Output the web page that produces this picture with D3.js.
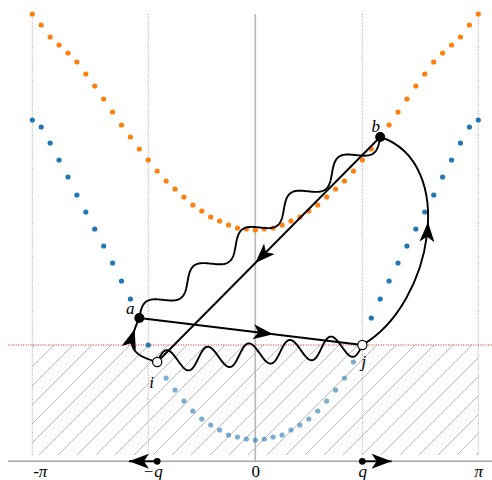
<!DOCTYPE html>
<html>
<head>
<meta charset="utf-8">
<script src="https://cdn.jsdelivr.net/npm/d3@7"></script>
<style>
  html, body { margin: 0; padding: 0; background: #fff; }
  svg { display: block; }
  text { font-family: "Liberation Serif", "DejaVu Serif", serif; }
</style>
</head>
<body>
<svg id="chart" width="492" height="480"></svg>
<script>
// ---- data ---------------------------------------------------------------
// crystal momentum grid, 51 points across the first Brillouin zone
const kCount = 51;
const kGrid = d3.range(kCount).map(i => -Math.PI + i * 2 * Math.PI / (kCount - 1));

// upper band energies on the k grid
const upperBand = [3.31, 3.20, 3.08, 3.00, 2.92, 2.83, 2.71, 2.59, 2.46, 2.33, 2.20, 2.08, 1.96,
  1.85, 1.74, 1.64, 1.56, 1.48, 1.40, 1.34, 1.28, 1.24, 1.20, 1.17, 1.16, 1.15, 1.16, 1.17, 1.20,
  1.24, 1.28, 1.34, 1.40, 1.48, 1.56, 1.64, 1.74, 1.85, 1.96, 2.08, 2.20, 2.33, 2.46, 2.59, 2.71,
  2.83, 2.92, 3.00, 3.08, 3.20, 3.31];

// lower band energies on the k grid
const lowerBand = [2.25, 2.18, 2.02, 1.85, 1.68, 1.50, 1.33, 1.16, 0.99, 0.82, 0.64, 0.46, 0.27,
  0.00, -0.17, -0.33, -0.45, -0.56, -0.66, -0.74, -0.80, -0.85, -0.90, -0.92, -0.94, -0.95, -0.94,
  -0.92, -0.90, -0.85, -0.80, -0.74, -0.66, -0.56, -0.45, -0.33, -0.17, 0.00, 0.27, 0.46, 0.64,
  0.82, 0.99, 1.16, 1.33, 1.50, 1.68, 1.85, 2.02, 2.18, 2.25];

const fermiEnergy = 0;
const bottomEnergy = -1.1;
const topEnergy = 3.31;

// scattering states: grid index and band
const stateNames = ["a", "b", "i", "j"];
const stateIndex = [12, 39, 14, 37];
const stateBand = ["lower", "upper", "lower", "lower"];
const stateFilled = [true, true, false, false];

// momentum transfer q
const q = kGrid[37];
const tickValues = [-Math.PI, -q, 0, q, Math.PI];
const tickLabels = ["-π", "−q", "0", "q", "π"];

// momentum markers on the k axis: start and end of each arrow
const markerStart = [kGrid[14], kGrid[37]];
const markerEnd = [-1.78, 1.92];

// ---- scales -------------------------------------------------------------
const x = d3.scaleLinear().domain([-Math.PI, Math.PI]).range([32.3, 478.3]);
const y = d3.scaleLinear().domain([bottomEnergy, topEnergy]).range([455, 14]);
const axisY = 461.3;
const lineLeft = 8, lineRight = 492;

const svg = d3.select("#chart");
svg.append("rect").attr("width", 492).attr("height", 480).attr("fill", "#fff");

const defs = svg.append("defs");
const hatch = defs.append("pattern")
  .attr("id", "hatch").attr("patternUnits", "userSpaceOnUse")
  .attr("width", 19).attr("height", 19);
hatch.append("path")
  .attr("d", "M-2,2 L2,-2 M0,19 L19,0 M17,21 L21,17")
  .attr("stroke", "#b4b4b4").attr("stroke-width", 0.9);

// occupied states below the Fermi level
svg.append("rect")
  .attr("x", x(-Math.PI)).attr("y", y(fermiEnergy))
  .attr("width", x(Math.PI) - x(-Math.PI))
  .attr("height", y(bottomEnergy) - y(fermiEnergy))
  .attr("fill", "url(#hatch)");

// vertical guides
tickValues.forEach(k => {
  if (k === 0) {
    svg.append("line").attr("x1", x(k)).attr("x2", x(k))
      .attr("y1", y(topEnergy)).attr("y2", axisY)
      .attr("stroke", "#b8b8b8").attr("stroke-width", 1.6);
  } else {
    svg.append("line").attr("x1", x(k)).attr("x2", x(k))
      .attr("y1", y(topEnergy)).attr("y2", y(bottomEnergy))
      .attr("stroke", "#a8a8a8").attr("stroke-width", 1)
      .attr("stroke-dasharray", "1,1.2");
  }
});

// Fermi level
svg.append("line").attr("x1", lineLeft).attr("x2", lineRight)
  .attr("y1", y(fermiEnergy)).attr("y2", y(fermiEnergy))
  .attr("stroke", "#d9403a").attr("stroke-width", 1)
  .attr("stroke-dasharray", "1.2,1.3");

// k axis
svg.append("line").attr("x1", lineLeft).attr("x2", lineRight)
  .attr("y1", axisY).attr("y2", axisY)
  .attr("stroke", "#a6a6a6").attr("stroke-width", 1.5);

const labelShift = [7.5, 4, 0, 0, 0];
const axis = d3.axisBottom(x).tickValues(tickValues).tickSize(0)
  .tickFormat((d, i) => tickLabels[i]);
const axisG = svg.append("g").attr("transform", `translate(0,${axisY})`).call(axis);
axisG.select(".domain").remove();
axisG.selectAll("text")
  .attr("y", 16).attr("dy", 0)
  .attr("dx", (d, i) => labelShift[i])
  .attr("fill", "#000")
  .style("font-family", "'Liberation Serif', serif")
  .style("font-size", "17px")
  .style("font-style", (d, i) => tickLabels[i] === "0" ? "normal" : "italic");

// band dots
const orange = "#ff7f0e", blue = "#1f77b4";
svg.append("g").selectAll("circle").data(kGrid).join("circle")
  .attr("cx", d => x(d)).attr("cy", (d, i) => y(upperBand[i]))
  .attr("r", 2.6).attr("fill", orange);
svg.append("g").selectAll("circle").data(kGrid).join("circle")
  .attr("cx", d => x(d)).attr("cy", (d, i) => y(lowerBand[i]))
  .attr("r", 2.6).attr("fill", blue)
  .attr("fill-opacity", (d, i) => lowerBand[i] < fermiEnergy ? 0.6 : 1);

// ---- scattering diagram --------------------------------------------------
const pos = {};
stateNames.forEach((n, s) => {
  const idx = stateIndex[s];
  const e = stateBand[s] === "upper" ? upperBand[idx] : lowerBand[idx];
  pos[n] = [x(kGrid[idx]), y(e)];
});

const ink = "#000", lw = 1.9;

function stealth(g, tip, angle) {
  g.append("path")
    .attr("d", "M0,0 L-20,-7.5 L-15,0 L-20,7.5 Z")
    .attr("transform", `translate(${tip[0]},${tip[1]}) rotate(${angle * 180 / Math.PI})`)
    .attr("fill", ink);
}

function markPath(pathNode, frac) {
  const L = pathNode.getTotalLength();
  const p = pathNode.getPointAtLength(L * frac);
  const p0 = pathNode.getPointAtLength(Math.max(0, L * frac - 6));
  stealth(svg, [p.x, p.y], Math.atan2(p.y - p0.y, p.x - p0.x));
}

// wavy propagator along a straight segment
function snake(p0, p1, periods, amp) {
  const dx = p1[0] - p0[0], dy = p1[1] - p0[1];
  const len = Math.hypot(dx, dy);
  const ux = dx / len, uy = dy / len;
  const nx = uy, ny = -ux;
  return d3.range(0, 401).map(s => {
    const t = s / 400;
    const w = amp * Math.sin(2 * Math.PI * periods * t);
    return [p0[0] + t * dx + w * nx, p0[1] + t * dy + w * ny];
  });
}

// curved connector with outgoing / incoming angles
function bend(p0, p1, outDeg, inDeg, loose) {
  const d = 0.3915 * loose * Math.hypot(p1[0] - p0[0], p1[1] - p0[1]);
  const o = outDeg * Math.PI / 180, n = inDeg * Math.PI / 180;
  const c1 = [p0[0] + d * Math.cos(o), p0[1] - d * Math.sin(o)];
  const c2 = [p1[0] + d * Math.cos(n), p1[1] - d * Math.sin(n)];
  const path = d3.path();
  path.moveTo(p0[0], p0[1]);
  path.bezierCurveTo(c1[0], c1[1], c2[0], c2[1], p1[0], p1[1]);
  return path.toString();
}

const lineGen = d3.line();

// phonon lines
svg.append("path").attr("d", lineGen(snake(pos.a, pos.b, 5, 9)))
  .attr("fill", "none").attr("stroke", ink).attr("stroke-width", lw);
svg.append("path").attr("d", lineGen(snake(pos.i, pos.j, 5, 11)))
  .attr("fill", "none").attr("stroke", ink).attr("stroke-width", lw);

// straight electron lines
const aj = svg.append("path").attr("d", lineGen([pos.a, pos.j]))
  .attr("fill", "none").attr("stroke", ink).attr("stroke-width", lw);
const bi = svg.append("path").attr("d", lineGen([pos.b, pos.i]))
  .attr("fill", "none").attr("stroke", ink).attr("stroke-width", lw);
markPath(aj.node(), 0.6);
markPath(bi.node(), 0.56);

// curved electron lines
const jb = svg.append("path").attr("d", bend(pos.j, pos.b, 30, -18, 1))
  .attr("fill", "none").attr("stroke", ink).attr("stroke-width", lw);
const ia = svg.append("path").attr("d", bend(pos.i, pos.a, 165, -115, 1.6))
  .attr("fill", "none").attr("stroke", ink).attr("stroke-width", lw);
markPath(jb.node(), 0.58);
markPath(ia.node(), 0.8);

// state markers
stateNames.forEach((n, s) => {
  svg.append("circle").attr("cx", pos[n][0]).attr("cy", pos[n][1])
    .attr("r", stateFilled[s] ? 5 : 4.6)
    .attr("fill", stateFilled[s] ? ink : "#fff")
    .attr("stroke", ink).attr("stroke-width", stateFilled[s] ? 0 : 1.2);
});

const labelOffset = { a: [-9, -4], b: [-4.5, -5.5], i: [-5.5, 26], j: [1.5, 22] };
stateNames.forEach(n => {
  svg.append("text")
    .attr("x", pos[n][0] + labelOffset[n][0]).attr("y", pos[n][1] + labelOffset[n][1])
    .attr("text-anchor", "middle")
    .style("font-style", "italic").style("font-size", "17px")
    .text(n);
});

// momentum markers on the k axis
markerStart.forEach((k0, m) => {
  const k1 = markerEnd[m];
  svg.append("line").attr("x1", x(k0)).attr("x2", x(k1))
    .attr("y1", axisY).attr("y2", axisY)
    .attr("stroke", ink).attr("stroke-width", lw);
  stealth(svg, [x(k1), axisY], k1 > k0 ? 0 : Math.PI);
  svg.append("circle").attr("cx", x(k0)).attr("cy", axisY).attr("r", 3.4).attr("fill", ink);
});
</script>
</body>
</html>
